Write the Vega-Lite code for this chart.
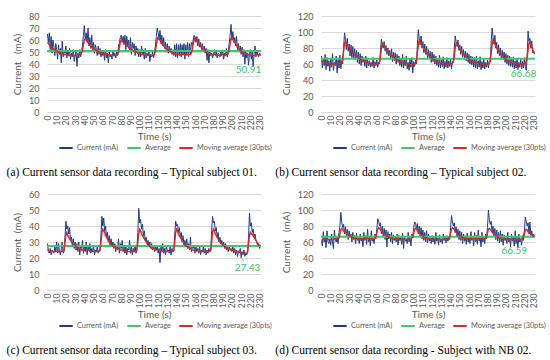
{
"$schema": "https://vega.github.io/schema/vega-lite/v6.json",
"padding": {"left": 6, "top": 12, "right": 2, "bottom": 2},
"datasets": {
"a": [
{"t":0,"c":65,"m":58},{"t":1,"c":58,"m":57},{"t":2,"c":66,"m":56},{"t":3,"c":52,"m":55},{"t":4,"c":63,"m":54},{"t":5,"c":49,"m":53},{"t":6,"c":60,"m":53},{"t":7,"c":54,"m":52},{"t":8,"c":47,"m":52},{"t":9,"c":57,"m":51},
{"t":10,"c":52,"m":51},{"t":11,"c":44,"m":50},{"t":12,"c":56,"m":50},{"t":13,"c":48,"m":50},{"t":14,"c":53,"m":49},{"t":15,"c":41,"m":49},{"t":16,"c":59,"m":49},{"t":17,"c":46,"m":49},{"t":18,"c":51,"m":48},{"t":19,"c":49,"m":48},
{"t":20,"c":55,"m":48},{"t":21,"c":45,"m":48},{"t":22,"c":50,"m":48},{"t":23,"c":47,"m":47},{"t":24,"c":53,"m":47},{"t":25,"c":44,"m":47},{"t":26,"c":49,"m":47},{"t":27,"c":46,"m":47},{"t":28,"c":52,"m":47},{"t":29,"c":42,"m":47},
{"t":30,"c":47,"m":47},{"t":31,"c":50,"m":47},{"t":32,"c":38,"m":47},{"t":33,"c":49,"m":47},{"t":34,"c":45,"m":47},{"t":35,"c":52,"m":48},{"t":36,"c":46,"m":48},{"t":37,"c":51,"m":49},{"t":38,"c":56,"m":52},{"t":39,"c":64,"m":56},
{"t":40,"c":72,"m":60},{"t":41,"c":60,"m":61},{"t":42,"c":66,"m":60},{"t":43,"c":58,"m":59},{"t":44,"c":70,"m":58},{"t":45,"c":55,"m":57},{"t":46,"c":62,"m":56},{"t":47,"c":53,"m":55},{"t":48,"c":64,"m":54},{"t":49,"c":50,"m":53},
{"t":50,"c":58,"m":53},{"t":51,"c":49,"m":52},{"t":52,"c":56,"m":52},{"t":53,"c":52,"m":51},{"t":54,"c":47,"m":51},{"t":55,"c":55,"m":50},{"t":56,"c":48,"m":50},{"t":57,"c":53,"m":50},{"t":58,"c":46,"m":49},{"t":59,"c":51,"m":49},
{"t":60,"c":47,"m":49},{"t":61,"c":50,"m":49},{"t":62,"c":43,"m":48},{"t":63,"c":52,"m":48},{"t":64,"c":45,"m":48},{"t":65,"c":49,"m":48},{"t":66,"c":41,"m":48},{"t":67,"c":50,"m":47},{"t":68,"c":46,"m":47},{"t":69,"c":48,"m":47},
{"t":70,"c":44,"m":47},{"t":71,"c":51,"m":47},{"t":72,"c":47,"m":47},{"t":73,"c":49,"m":47},{"t":74,"c":45,"m":47},{"t":75,"c":50,"m":47},{"t":76,"c":47,"m":48},{"t":77,"c":55,"m":50},{"t":78,"c":58,"m":54},{"t":79,"c":62,"m":58},
{"t":80,"c":64,"m":60},{"t":81,"c":58,"m":60},{"t":82,"c":63,"m":59},{"t":83,"c":56,"m":58},{"t":84,"c":64,"m":57},{"t":85,"c":52,"m":56},{"t":86,"c":63,"m":55},{"t":87,"c":55,"m":55},{"t":88,"c":60,"m":54},{"t":89,"c":50,"m":53},
{"t":90,"c":62,"m":53},{"t":91,"c":48,"m":52},{"t":92,"c":58,"m":52},{"t":93,"c":53,"m":51},{"t":94,"c":57,"m":51},{"t":95,"c":47,"m":50},{"t":96,"c":55,"m":50},{"t":97,"c":50,"m":50},{"t":98,"c":53,"m":49},{"t":99,"c":46,"m":49},
{"t":100,"c":52,"m":49},{"t":101,"c":46,"m":48},{"t":102,"c":55,"m":48},{"t":103,"c":48,"m":48},{"t":104,"c":50,"m":48},{"t":105,"c":44,"m":48},{"t":106,"c":53,"m":47},{"t":107,"c":45,"m":47},{"t":108,"c":49,"m":47},{"t":109,"c":47,"m":47},
{"t":110,"c":51,"m":47},{"t":111,"c":42,"m":47},{"t":112,"c":48,"m":47},{"t":113,"c":46,"m":47},{"t":114,"c":50,"m":47},{"t":115,"c":45,"m":47},{"t":116,"c":49,"m":48},{"t":117,"c":55,"m":51},{"t":118,"c":63,"m":56},{"t":119,"c":70,"m":60},
{"t":120,"c":66,"m":62},{"t":121,"c":60,"m":61},{"t":122,"c":68,"m":60},{"t":123,"c":57,"m":58},{"t":124,"c":64,"m":57},{"t":125,"c":55,"m":56},{"t":126,"c":62,"m":55},{"t":127,"c":53,"m":54},{"t":128,"c":58,"m":53},{"t":129,"c":51,"m":52},
{"t":130,"c":57,"m":52},{"t":131,"c":49,"m":51},{"t":132,"c":55,"m":51},{"t":133,"c":50,"m":50},{"t":134,"c":53,"m":50},{"t":135,"c":48,"m":50},{"t":136,"c":52,"m":49},{"t":137,"c":47,"m":49},{"t":138,"c":56,"m":49},{"t":139,"c":46,"m":48},
{"t":140,"c":57,"m":48},{"t":141,"c":45,"m":48},{"t":142,"c":56,"m":48},{"t":143,"c":47,"m":48},{"t":144,"c":57,"m":48},{"t":145,"c":46,"m":48},{"t":146,"c":56,"m":48},{"t":147,"c":48,"m":48},{"t":148,"c":57,"m":48},{"t":149,"c":44,"m":48},
{"t":150,"c":56,"m":48},{"t":151,"c":47,"m":48},{"t":152,"c":58,"m":48},{"t":153,"c":46,"m":48},{"t":154,"c":57,"m":48},{"t":155,"c":48,"m":48},{"t":156,"c":58,"m":49},{"t":157,"c":55,"m":52},{"t":158,"c":60,"m":57},{"t":159,"c":64,"m":60},
{"t":160,"c":62,"m":62},{"t":161,"c":58,"m":61},{"t":162,"c":63,"m":60},{"t":163,"c":55,"m":58},{"t":164,"c":61,"m":57},{"t":165,"c":54,"m":56},{"t":166,"c":58,"m":55},{"t":167,"c":52,"m":54},{"t":168,"c":57,"m":53},{"t":169,"c":50,"m":52},
{"t":170,"c":55,"m":52},{"t":171,"c":49,"m":51},{"t":172,"c":53,"m":50},{"t":173,"c":43,"m":50},{"t":174,"c":52,"m":49},{"t":175,"c":41,"m":49},{"t":176,"c":50,"m":49},{"t":177,"c":47,"m":48},{"t":178,"c":49,"m":48},{"t":179,"c":45,"m":48},
{"t":180,"c":48,"m":48},{"t":181,"c":52,"m":48},{"t":182,"c":47,"m":48},{"t":183,"c":50,"m":47},{"t":184,"c":45,"m":47},{"t":185,"c":49,"m":47},{"t":186,"c":48,"m":47},{"t":187,"c":46,"m":47},{"t":188,"c":50,"m":47},{"t":189,"c":47,"m":48},
{"t":190,"c":51,"m":48},{"t":191,"c":44,"m":48},{"t":192,"c":49,"m":47},{"t":193,"c":47,"m":47},{"t":194,"c":53,"m":48},{"t":195,"c":46,"m":48},{"t":196,"c":50,"m":49},{"t":197,"c":57,"m":52},{"t":198,"c":64,"m":57},{"t":199,"c":73,"m":61},
{"t":200,"c":60,"m":62},{"t":201,"c":67,"m":61},{"t":202,"c":58,"m":59},{"t":203,"c":62,"m":58},{"t":204,"c":55,"m":57},{"t":205,"c":63,"m":55},{"t":206,"c":52,"m":54},{"t":207,"c":57,"m":53},{"t":208,"c":50,"m":52},{"t":209,"c":55,"m":51},
{"t":210,"c":48,"m":51},{"t":211,"c":54,"m":50},{"t":212,"c":46,"m":50},{"t":213,"c":52,"m":49},{"t":214,"c":40,"m":49},{"t":215,"c":50,"m":49},{"t":216,"c":45,"m":48},{"t":217,"c":49,"m":48},{"t":218,"c":39,"m":48},{"t":219,"c":48,"m":47},
{"t":220,"c":52,"m":47},{"t":221,"c":44,"m":47},{"t":222,"c":50,"m":47},{"t":223,"c":38,"m":47},{"t":224,"c":48,"m":47},{"t":225,"c":55,"m":47},{"t":226,"c":46,"m":48},{"t":227,"c":51,"m":48},{"t":228,"c":48,"m":48},{"t":229,"c":46,"m":47},
{"t":230,"c":49,"m":48},{"t":231,"c":47,"m":48}
],
"b": [
{"t":0,"c":70,"m":64},{"t":1,"c":55,"m":63},{"t":2,"c":66,"m":63},{"t":3,"c":58,"m":62},{"t":4,"c":72,"m":62},{"t":5,"c":53,"m":61},{"t":6,"c":68,"m":61},{"t":7,"c":57,"m":61},{"t":8,"c":64,"m":61},{"t":9,"c":51,"m":60},
{"t":10,"c":67,"m":60},{"t":11,"c":56,"m":60},{"t":12,"c":73,"m":60},{"t":13,"c":52,"m":60},{"t":14,"c":62,"m":60},{"t":15,"c":58,"m":60},{"t":16,"c":70,"m":60},{"t":17,"c":49,"m":60},{"t":18,"c":66,"m":61},{"t":19,"c":55,"m":61},
{"t":20,"c":71,"m":61},{"t":21,"c":54,"m":61},{"t":22,"c":64,"m":62},{"t":23,"c":60,"m":66},{"t":24,"c":80,"m":76},{"t":25,"c":99,"m":86},{"t":26,"c":90,"m":88},{"t":27,"c":78,"m":86},{"t":28,"c":92,"m":84},{"t":29,"c":76,"m":82},
{"t":30,"c":85,"m":80},{"t":31,"c":70,"m":78},{"t":32,"c":84,"m":77},{"t":33,"c":68,"m":75},{"t":34,"c":82,"m":74},{"t":35,"c":66,"m":73},{"t":36,"c":79,"m":72},{"t":37,"c":65,"m":71},{"t":38,"c":77,"m":70},{"t":39,"c":62,"m":69},
{"t":40,"c":75,"m":68},{"t":41,"c":60,"m":67},{"t":42,"c":73,"m":66},{"t":43,"c":58,"m":66},{"t":44,"c":70,"m":65},{"t":45,"c":62,"m":64},{"t":46,"c":68,"m":64},{"t":47,"c":57,"m":63},{"t":48,"c":70,"m":63},{"t":49,"c":55,"m":62},
{"t":50,"c":66,"m":62},{"t":51,"c":58,"m":61},{"t":52,"c":64,"m":61},{"t":53,"c":56,"m":61},{"t":54,"c":62,"m":60},{"t":55,"c":57,"m":60},{"t":56,"c":68,"m":60},{"t":57,"c":55,"m":60},{"t":58,"c":63,"m":60},{"t":59,"c":58,"m":60},
{"t":60,"c":65,"m":60},{"t":61,"c":56,"m":61},{"t":62,"c":62,"m":61},{"t":63,"c":60,"m":63},{"t":64,"c":78,"m":70},{"t":65,"c":91,"m":80},{"t":66,"c":84,"m":86},{"t":67,"c":80,"m":85},{"t":68,"c":88,"m":83},{"t":69,"c":76,"m":81},
{"t":70,"c":83,"m":79},{"t":71,"c":72,"m":77},{"t":72,"c":80,"m":76},{"t":73,"c":70,"m":74},{"t":74,"c":77,"m":73},{"t":75,"c":66,"m":72},{"t":76,"c":79,"m":71},{"t":77,"c":63,"m":70},{"t":78,"c":75,"m":69},{"t":79,"c":64,"m":68},
{"t":80,"c":74,"m":67},{"t":81,"c":60,"m":66},{"t":82,"c":72,"m":65},{"t":83,"c":62,"m":65},{"t":84,"c":70,"m":64},{"t":85,"c":58,"m":64},{"t":86,"c":67,"m":63},{"t":87,"c":56,"m":63},{"t":88,"c":72,"m":62},{"t":89,"c":55,"m":62},
{"t":90,"c":65,"m":61},{"t":91,"c":58,"m":61},{"t":92,"c":70,"m":61},{"t":93,"c":54,"m":60},{"t":94,"c":62,"m":60},{"t":95,"c":52,"m":60},{"t":96,"c":66,"m":59},{"t":97,"c":56,"m":59},{"t":98,"c":68,"m":60},{"t":99,"c":49,"m":60},
{"t":100,"c":63,"m":60},{"t":101,"c":57,"m":60},{"t":102,"c":65,"m":61},{"t":103,"c":60,"m":64},{"t":104,"c":85,"m":74},{"t":105,"c":103,"m":84},{"t":106,"c":92,"m":90},{"t":107,"c":84,"m":88},{"t":108,"c":95,"m":86},{"t":109,"c":80,"m":83},
{"t":110,"c":88,"m":81},{"t":111,"c":74,"m":79},{"t":112,"c":85,"m":77},{"t":113,"c":72,"m":75},{"t":114,"c":82,"m":74},{"t":115,"c":68,"m":72},{"t":116,"c":78,"m":71},{"t":117,"c":66,"m":70},{"t":118,"c":76,"m":69},{"t":119,"c":62,"m":68},
{"t":120,"c":75,"m":67},{"t":121,"c":63,"m":66},{"t":122,"c":72,"m":65},{"t":123,"c":60,"m":65},{"t":124,"c":70,"m":64},{"t":125,"c":58,"m":64},{"t":126,"c":67,"m":63},{"t":127,"c":56,"m":63},{"t":128,"c":71,"m":62},{"t":129,"c":55,"m":62},
{"t":130,"c":65,"m":61},{"t":131,"c":57,"m":61},{"t":132,"c":69,"m":61},{"t":133,"c":54,"m":60},{"t":134,"c":63,"m":60},{"t":135,"c":56,"m":60},{"t":136,"c":68,"m":60},{"t":137,"c":55,"m":60},{"t":138,"c":64,"m":60},{"t":139,"c":57,"m":60},
{"t":140,"c":66,"m":60},{"t":141,"c":54,"m":60},{"t":142,"c":63,"m":61},{"t":143,"c":62,"m":63},{"t":144,"c":80,"m":70},{"t":145,"c":95,"m":80},{"t":146,"c":88,"m":86},{"t":147,"c":82,"m":85},{"t":148,"c":90,"m":83},{"t":149,"c":77,"m":81},
{"t":150,"c":84,"m":79},{"t":151,"c":72,"m":77},{"t":152,"c":82,"m":75},{"t":153,"c":69,"m":74},{"t":154,"c":78,"m":72},{"t":155,"c":66,"m":71},{"t":156,"c":76,"m":70},{"t":157,"c":64,"m":69},{"t":158,"c":74,"m":68},{"t":159,"c":62,"m":67},
{"t":160,"c":72,"m":66},{"t":161,"c":60,"m":65},{"t":162,"c":70,"m":65},{"t":163,"c":59,"m":64},{"t":164,"c":69,"m":63},{"t":165,"c":56,"m":63},{"t":166,"c":68,"m":62},{"t":167,"c":55,"m":62},{"t":168,"c":70,"m":62},{"t":169,"c":54,"m":61},
{"t":170,"c":64,"m":61},{"t":171,"c":56,"m":61},{"t":172,"c":69,"m":60},{"t":173,"c":53,"m":60},{"t":174,"c":63,"m":60},{"t":175,"c":55,"m":60},{"t":176,"c":67,"m":60},{"t":177,"c":54,"m":60},{"t":178,"c":62,"m":60},{"t":179,"c":56,"m":60},
{"t":180,"c":65,"m":60},{"t":181,"c":55,"m":60},{"t":182,"c":64,"m":61},{"t":183,"c":63,"m":64},{"t":184,"c":88,"m":74},{"t":185,"c":105,"m":85},{"t":186,"c":94,"m":90},{"t":187,"c":85,"m":88},{"t":188,"c":96,"m":85},{"t":189,"c":80,"m":83},
{"t":190,"c":87,"m":80},{"t":191,"c":73,"m":78},{"t":192,"c":84,"m":76},{"t":193,"c":70,"m":74},{"t":194,"c":80,"m":73},{"t":195,"c":67,"m":71},{"t":196,"c":77,"m":70},{"t":197,"c":65,"m":69},{"t":198,"c":75,"m":68},{"t":199,"c":62,"m":67},
{"t":200,"c":73,"m":66},{"t":201,"c":60,"m":65},{"t":202,"c":71,"m":64},{"t":203,"c":58,"m":64},{"t":204,"c":70,"m":63},{"t":205,"c":57,"m":63},{"t":206,"c":68,"m":62},{"t":207,"c":56,"m":62},{"t":208,"c":69,"m":61},{"t":209,"c":54,"m":61},
{"t":210,"c":64,"m":61},{"t":211,"c":55,"m":60},{"t":212,"c":67,"m":60},{"t":213,"c":53,"m":60},{"t":214,"c":62,"m":60},{"t":215,"c":56,"m":60},{"t":216,"c":66,"m":60},{"t":217,"c":54,"m":60},{"t":218,"c":63,"m":60},{"t":219,"c":55,"m":60},
{"t":220,"c":68,"m":60},{"t":221,"c":57,"m":61},{"t":222,"c":52,"m":63},{"t":223,"c":70,"m":68},{"t":224,"c":101,"m":78},{"t":225,"c":88,"m":86},{"t":226,"c":92,"m":87},{"t":227,"c":80,"m":85},{"t":228,"c":89,"m":81},{"t":229,"c":74,"m":78},
{"t":230,"c":77,"m":75},{"t":231,"c":73,"m":73}
],
"c": [
{"t":0,"c":29,"m":25},{"t":1,"c":24,"m":25},{"t":2,"c":23,"m":24},{"t":3,"c":26,"m":24},{"t":4,"c":22,"m":24},{"t":5,"c":25,"m":24},{"t":6,"c":24,"m":24},{"t":7,"c":23,"m":24},{"t":8,"c":27,"m":24},{"t":9,"c":24,"m":24},
{"t":10,"c":30,"m":24},{"t":11,"c":23,"m":24},{"t":12,"c":29,"m":24},{"t":13,"c":24,"m":24},{"t":14,"c":22,"m":24},{"t":15,"c":26,"m":24},{"t":16,"c":30,"m":24},{"t":17,"c":23,"m":25},{"t":18,"c":24,"m":25},{"t":19,"c":33,"m":30},
{"t":20,"c":43,"m":35},{"t":21,"c":38,"m":36},{"t":22,"c":40,"m":34},{"t":23,"c":35,"m":33},{"t":24,"c":39,"m":32},{"t":25,"c":31,"m":31},{"t":26,"c":33,"m":30},{"t":27,"c":28,"m":29},{"t":28,"c":32,"m":29},{"t":29,"c":26,"m":28},
{"t":30,"c":30,"m":28},{"t":31,"c":25,"m":27},{"t":32,"c":29,"m":27},{"t":33,"c":24,"m":26},{"t":34,"c":30,"m":26},{"t":35,"c":22,"m":26},{"t":36,"c":27,"m":26},{"t":37,"c":26,"m":25},{"t":38,"c":31,"m":25},{"t":39,"c":23,"m":25},
{"t":40,"c":28,"m":25},{"t":41,"c":24,"m":25},{"t":42,"c":30,"m":25},{"t":43,"c":22,"m":25},{"t":44,"c":27,"m":25},{"t":45,"c":25,"m":25},{"t":46,"c":29,"m":24},{"t":47,"c":23,"m":24},{"t":48,"c":26,"m":24},{"t":49,"c":24,"m":24},
{"t":50,"c":28,"m":24},{"t":51,"c":22,"m":24},{"t":52,"c":25,"m":24},{"t":53,"c":24,"m":24},{"t":54,"c":27,"m":24},{"t":55,"c":23,"m":24},{"t":56,"c":25,"m":24},{"t":57,"c":26,"m":25},{"t":58,"c":34,"m":30},{"t":59,"c":46,"m":36},
{"t":60,"c":40,"m":38},{"t":61,"c":45,"m":37},{"t":62,"c":37,"m":36},{"t":63,"c":40,"m":34},{"t":64,"c":33,"m":33},{"t":65,"c":36,"m":32},{"t":66,"c":30,"m":31},{"t":67,"c":34,"m":30},{"t":68,"c":28,"m":29},{"t":69,"c":32,"m":29},
{"t":70,"c":27,"m":28},{"t":71,"c":30,"m":28},{"t":72,"c":26,"m":27},{"t":73,"c":29,"m":27},{"t":74,"c":24,"m":27},{"t":75,"c":28,"m":26},{"t":76,"c":25,"m":26},{"t":77,"c":32,"m":26},{"t":78,"c":23,"m":26},{"t":79,"c":29,"m":25},
{"t":80,"c":26,"m":25},{"t":81,"c":31,"m":25},{"t":82,"c":24,"m":25},{"t":83,"c":27,"m":25},{"t":84,"c":23,"m":25},{"t":85,"c":28,"m":24},{"t":86,"c":22,"m":24},{"t":87,"c":26,"m":24},{"t":88,"c":25,"m":24},{"t":89,"c":31,"m":24},
{"t":90,"c":23,"m":24},{"t":91,"c":27,"m":24},{"t":92,"c":22,"m":24},{"t":93,"c":26,"m":24},{"t":94,"c":24,"m":24},{"t":95,"c":28,"m":24},{"t":96,"c":23,"m":24},{"t":97,"c":26,"m":25},{"t":98,"c":36,"m":30},{"t":99,"c":51,"m":36},
{"t":100,"c":42,"m":38},{"t":101,"c":44,"m":37},{"t":102,"c":38,"m":35},{"t":103,"c":41,"m":34},{"t":104,"c":34,"m":33},{"t":105,"c":37,"m":32},{"t":106,"c":31,"m":31},{"t":107,"c":33,"m":30},{"t":108,"c":29,"m":29},{"t":109,"c":31,"m":28},
{"t":110,"c":27,"m":28},{"t":111,"c":30,"m":27},{"t":112,"c":26,"m":27},{"t":113,"c":29,"m":26},{"t":114,"c":25,"m":26},{"t":115,"c":28,"m":26},{"t":116,"c":24,"m":26},{"t":117,"c":27,"m":25},{"t":118,"c":25,"m":25},{"t":119,"c":28,"m":25},
{"t":120,"c":23,"m":25},{"t":121,"c":26,"m":25},{"t":122,"c":17,"m":25},{"t":123,"c":27,"m":24},{"t":124,"c":24,"m":24},{"t":125,"c":29,"m":24},{"t":126,"c":23,"m":24},{"t":127,"c":26,"m":24},{"t":128,"c":22,"m":24},{"t":129,"c":28,"m":24},
{"t":130,"c":24,"m":24},{"t":131,"c":25,"m":24},{"t":132,"c":23,"m":24},{"t":133,"c":27,"m":24},{"t":134,"c":22,"m":24},{"t":135,"c":26,"m":24},{"t":136,"c":24,"m":24},{"t":137,"c":25,"m":25},{"t":138,"c":35,"m":30},{"t":139,"c":43,"m":36},
{"t":140,"c":40,"m":38},{"t":141,"c":41,"m":37},{"t":142,"c":36,"m":35},{"t":143,"c":39,"m":34},{"t":144,"c":33,"m":33},{"t":145,"c":36,"m":32},{"t":146,"c":30,"m":31},{"t":147,"c":34,"m":30},{"t":148,"c":28,"m":29},{"t":149,"c":31,"m":28},
{"t":150,"c":27,"m":28},{"t":151,"c":32,"m":27},{"t":152,"c":26,"m":27},{"t":153,"c":29,"m":27},{"t":154,"c":25,"m":26},{"t":155,"c":33,"m":26},{"t":156,"c":24,"m":26},{"t":157,"c":28,"m":25},{"t":158,"c":26,"m":25},{"t":159,"c":27,"m":25},
{"t":160,"c":23,"m":25},{"t":161,"c":27,"m":25},{"t":162,"c":24,"m":25},{"t":163,"c":26,"m":25},{"t":164,"c":23,"m":24},{"t":165,"c":28,"m":24},{"t":166,"c":22,"m":24},{"t":167,"c":25,"m":24},{"t":168,"c":24,"m":24},{"t":169,"c":27,"m":24},
{"t":170,"c":23,"m":24},{"t":171,"c":26,"m":24},{"t":172,"c":22,"m":24},{"t":173,"c":25,"m":24},{"t":174,"c":23,"m":24},{"t":175,"c":26,"m":24},{"t":176,"c":24,"m":24},{"t":177,"c":25,"m":25},{"t":178,"c":37,"m":30},{"t":179,"c":46,"m":36},
{"t":180,"c":42,"m":38},{"t":181,"c":43,"m":37},{"t":182,"c":37,"m":35},{"t":183,"c":39,"m":34},{"t":184,"c":33,"m":33},{"t":185,"c":36,"m":32},{"t":186,"c":30,"m":31},{"t":187,"c":33,"m":30},{"t":188,"c":29,"m":29},{"t":189,"c":31,"m":29},
{"t":190,"c":27,"m":28},{"t":191,"c":30,"m":28},{"t":192,"c":26,"m":27},{"t":193,"c":29,"m":27},{"t":194,"c":25,"m":26},{"t":195,"c":28,"m":26},{"t":196,"c":24,"m":26},{"t":197,"c":27,"m":26},{"t":198,"c":25,"m":25},{"t":199,"c":26,"m":25},
{"t":200,"c":24,"m":25},{"t":201,"c":27,"m":25},{"t":202,"c":23,"m":25},{"t":203,"c":26,"m":25},{"t":204,"c":22,"m":24},{"t":205,"c":25,"m":24},{"t":206,"c":21,"m":24},{"t":207,"c":24,"m":24},{"t":208,"c":23,"m":24},{"t":209,"c":26,"m":24},
{"t":210,"c":20,"m":23},{"t":211,"c":24,"m":23},{"t":212,"c":22,"m":23},{"t":213,"c":25,"m":23},{"t":214,"c":21,"m":23},{"t":215,"c":23,"m":23},{"t":216,"c":22,"m":23},{"t":217,"c":24,"m":24},{"t":218,"c":33,"m":29},{"t":219,"c":48,"m":34},
{"t":220,"c":40,"m":36},{"t":221,"c":42,"m":35},{"t":222,"c":36,"m":35},{"t":223,"c":38,"m":34},{"t":224,"c":33,"m":33},{"t":225,"c":35,"m":32},{"t":226,"c":31,"m":31},{"t":227,"c":30,"m":30},{"t":228,"c":27,"m":29},{"t":229,"c":29,"m":28},
{"t":230,"c":26,"m":28},{"t":231,"c":28,"m":28}
],
"d": [
{"t":0,"c":62,"m":63},{"t":1,"c":55,"m":63},{"t":2,"c":73,"m":63},{"t":3,"c":60,"m":63},{"t":4,"c":66,"m":63},{"t":5,"c":53,"m":63},{"t":6,"c":74,"m":63},{"t":7,"c":61,"m":63},{"t":8,"c":58,"m":63},{"t":9,"c":64,"m":63},
{"t":10,"c":56,"m":63},{"t":11,"c":70,"m":63},{"t":12,"c":60,"m":63},{"t":13,"c":52,"m":63},{"t":14,"c":75,"m":64},{"t":15,"c":63,"m":64},{"t":16,"c":60,"m":64},{"t":17,"c":66,"m":64},{"t":18,"c":58,"m":65},{"t":19,"c":72,"m":65},
{"t":20,"c":80,"m":70},{"t":21,"c":97,"m":75},{"t":22,"c":85,"m":77},{"t":23,"c":78,"m":76},{"t":24,"c":82,"m":74},{"t":25,"c":70,"m":73},{"t":26,"c":79,"m":72},{"t":27,"c":68,"m":71},{"t":28,"c":76,"m":70},{"t":29,"c":63,"m":69},
{"t":30,"c":74,"m":68},{"t":31,"c":66,"m":67},{"t":32,"c":70,"m":67},{"t":33,"c":60,"m":66},{"t":34,"c":72,"m":66},{"t":35,"c":63,"m":65},{"t":36,"c":68,"m":65},{"t":37,"c":58,"m":65},{"t":38,"c":71,"m":64},{"t":39,"c":62,"m":64},
{"t":40,"c":66,"m":64},{"t":41,"c":58,"m":64},{"t":42,"c":70,"m":64},{"t":43,"c":61,"m":64},{"t":44,"c":65,"m":64},{"t":45,"c":54,"m":64},{"t":46,"c":72,"m":64},{"t":47,"c":62,"m":65},{"t":48,"c":68,"m":65},{"t":49,"c":57,"m":65},
{"t":50,"c":76,"m":65},{"t":51,"c":60,"m":64},{"t":52,"c":66,"m":64},{"t":53,"c":55,"m":64},{"t":54,"c":74,"m":64},{"t":55,"c":61,"m":64},{"t":56,"c":65,"m":64},{"t":57,"c":58,"m":64},{"t":58,"c":70,"m":65},{"t":59,"c":64,"m":66},
{"t":60,"c":76,"m":71},{"t":61,"c":89,"m":76},{"t":62,"c":86,"m":78},{"t":63,"c":80,"m":77},{"t":64,"c":84,"m":75},{"t":65,"c":70,"m":74},{"t":66,"c":80,"m":72},{"t":67,"c":66,"m":71},{"t":68,"c":77,"m":70},{"t":69,"c":63,"m":69},
{"t":70,"c":75,"m":68},{"t":71,"c":54,"m":67},{"t":72,"c":73,"m":67},{"t":73,"c":64,"m":66},{"t":74,"c":70,"m":66},{"t":75,"c":60,"m":65},{"t":76,"c":72,"m":65},{"t":77,"c":58,"m":65},{"t":78,"c":69,"m":64},{"t":79,"c":62,"m":64},
{"t":80,"c":67,"m":64},{"t":81,"c":60,"m":64},{"t":82,"c":70,"m":64},{"t":83,"c":56,"m":64},{"t":84,"c":68,"m":63},{"t":85,"c":62,"m":63},{"t":86,"c":66,"m":63},{"t":87,"c":57,"m":63},{"t":88,"c":71,"m":63},{"t":89,"c":52,"m":63},
{"t":90,"c":67,"m":63},{"t":91,"c":61,"m":63},{"t":92,"c":64,"m":63},{"t":93,"c":58,"m":63},{"t":94,"c":72,"m":63},{"t":95,"c":60,"m":63},{"t":96,"c":66,"m":64},{"t":97,"c":55,"m":64},{"t":98,"c":70,"m":65},{"t":99,"c":65,"m":66},
{"t":100,"c":78,"m":71},{"t":101,"c":85,"m":76},{"t":102,"c":84,"m":77},{"t":103,"c":75,"m":76},{"t":104,"c":83,"m":74},{"t":105,"c":70,"m":73},{"t":106,"c":80,"m":71},{"t":107,"c":67,"m":70},{"t":108,"c":78,"m":69},{"t":109,"c":64,"m":68},
{"t":110,"c":75,"m":67},{"t":111,"c":62,"m":66},{"t":112,"c":72,"m":66},{"t":113,"c":60,"m":65},{"t":114,"c":74,"m":65},{"t":115,"c":59,"m":64},{"t":116,"c":70,"m":64},{"t":117,"c":61,"m":64},{"t":118,"c":67,"m":64},{"t":119,"c":58,"m":63},
{"t":120,"c":68,"m":63},{"t":121,"c":60,"m":63},{"t":122,"c":66,"m":63},{"t":123,"c":57,"m":63},{"t":124,"c":72,"m":63},{"t":125,"c":61,"m":63},{"t":126,"c":65,"m":63},{"t":127,"c":56,"m":63},{"t":128,"c":69,"m":63},{"t":129,"c":60,"m":63},
{"t":130,"c":64,"m":63},{"t":131,"c":58,"m":63},{"t":132,"c":70,"m":63},{"t":133,"c":62,"m":63},{"t":134,"c":66,"m":63},{"t":135,"c":59,"m":63},{"t":136,"c":68,"m":64},{"t":137,"c":61,"m":64},{"t":138,"c":65,"m":65},{"t":139,"c":63,"m":66},
{"t":140,"c":78,"m":71},{"t":141,"c":93,"m":76},{"t":142,"c":85,"m":78},{"t":143,"c":80,"m":77},{"t":144,"c":84,"m":75},{"t":145,"c":72,"m":73},{"t":146,"c":79,"m":72},{"t":147,"c":66,"m":70},{"t":148,"c":76,"m":69},{"t":149,"c":63,"m":68},
{"t":150,"c":74,"m":67},{"t":151,"c":62,"m":67},{"t":152,"c":72,"m":66},{"t":153,"c":58,"m":66},{"t":154,"c":70,"m":65},{"t":155,"c":61,"m":65},{"t":156,"c":68,"m":65},{"t":157,"c":57,"m":64},{"t":158,"c":71,"m":64},{"t":159,"c":60,"m":64},
{"t":160,"c":66,"m":64},{"t":161,"c":58,"m":64},{"t":162,"c":73,"m":64},{"t":163,"c":62,"m":64},{"t":164,"c":66,"m":64},{"t":165,"c":55,"m":64},{"t":166,"c":72,"m":64},{"t":167,"c":60,"m":64},{"t":168,"c":68,"m":64},{"t":169,"c":57,"m":64},
{"t":170,"c":75,"m":64},{"t":171,"c":61,"m":64},{"t":172,"c":66,"m":64},{"t":173,"c":54,"m":64},{"t":174,"c":72,"m":64},{"t":175,"c":60,"m":64},{"t":176,"c":67,"m":64},{"t":177,"c":58,"m":64},{"t":178,"c":70,"m":65},{"t":179,"c":64,"m":66},
{"t":180,"c":78,"m":71},{"t":181,"c":100,"m":76},{"t":182,"c":88,"m":77},{"t":183,"c":82,"m":76},{"t":184,"c":86,"m":74},{"t":185,"c":72,"m":73},{"t":186,"c":80,"m":71},{"t":187,"c":66,"m":70},{"t":188,"c":77,"m":69},{"t":189,"c":63,"m":68},
{"t":190,"c":75,"m":67},{"t":191,"c":61,"m":66},{"t":192,"c":72,"m":66},{"t":193,"c":59,"m":65},{"t":194,"c":74,"m":65},{"t":195,"c":60,"m":64},{"t":196,"c":70,"m":64},{"t":197,"c":56,"m":64},{"t":198,"c":69,"m":64},{"t":199,"c":62,"m":63},
{"t":200,"c":66,"m":63},{"t":201,"c":58,"m":63},{"t":202,"c":72,"m":63},{"t":203,"c":60,"m":63},{"t":204,"c":65,"m":63},{"t":205,"c":54,"m":63},{"t":206,"c":70,"m":63},{"t":207,"c":61,"m":63},{"t":208,"c":67,"m":63},{"t":209,"c":55,"m":63},
{"t":210,"c":74,"m":63},{"t":211,"c":58,"m":63},{"t":212,"c":66,"m":63},{"t":213,"c":53,"m":63},{"t":214,"c":70,"m":63},{"t":215,"c":60,"m":63},{"t":216,"c":64,"m":63},{"t":217,"c":56,"m":64},{"t":218,"c":68,"m":65},{"t":219,"c":62,"m":66},
{"t":220,"c":74,"m":71},{"t":221,"c":91,"m":75},{"t":222,"c":86,"m":76},{"t":223,"c":80,"m":75},{"t":224,"c":84,"m":73},{"t":225,"c":70,"m":72},{"t":226,"c":85,"m":71},{"t":227,"c":68,"m":70},{"t":228,"c":74,"m":69},{"t":229,"c":66,"m":68},
{"t":230,"c":70,"m":67},{"t":231,"c":67,"m":67}
]
},
"columns": 2,
"bounds": "flush",
"spacing": {"row": 82, "column": 60},
"resolve": {"scale": {"x": "independent", "y": "independent", "color": "independent"}, "legend": {"color": "independent"}},
"concat": [
{
"width": 214, "height": 96,
"title": {"text": "(a) Current sensor data recording – Typical subject 01.", "dx": -6},
"data": {"name": "a"},
"layer": [
{"mark": {"type": "line", "strokeWidth": 1},
 "encoding": {
  "x": {"field": "t", "type": "quantitative", "scale": {"domain": [-0.5, 231.5], "nice": false}, "axis": {"values": [0,10,20,30,40,50,60,70,80,90,100,110,120,130,140,150,160,170,180,190,200,210,220,230], "title": "Time (s)"}},
  "y": {"field": "c", "type": "quantitative", "scale": {"domain": [0, 80], "nice": false}, "axis": {"values": [0,10,20,30,40,50,60,70,80], "title": "Current\u00a0\u00a0 (mA)"}},
  "color": {"datum": "Current (mA)", "type": "nominal", "scale": {"domain": ["Current (mA)", "Average", "Moving average (30pts)"], "range": ["#1f3a7f", "#3cc870", "#d42a2a"]}, "legend": {"orient": "none", "direction": "horizontal", "legendX": 11, "legendY": 124}}
 }},
{"data": {"values": [{}]}, "mark": {"type": "rule", "strokeWidth": 2},
 "encoding": {"y": {"datum": 50.91, "type": "quantitative", "axis": {"values": [0,10,20,30,40,50,60,70,80], "title": "Current\u00a0\u00a0 (mA)"}}, "color": {"datum": "Average", "type": "nominal"}}},
{"mark": {"type": "line", "strokeWidth": 1.5},
 "encoding": {
  "x": {"field": "t", "type": "quantitative", "axis": {"values": [0,10,20,30,40,50,60,70,80,90,100,110,120,130,140,150,160,170,180,190,200,210,220,230], "title": "Time (s)"}},
  "y": {"field": "m", "type": "quantitative", "axis": {"values": [0,10,20,30,40,50,60,70,80], "title": "Current\u00a0\u00a0 (mA)"}},
  "color": {"datum": "Moving average (30pts)", "type": "nominal"}
 }},
{"data": {"values": [{}]}, "mark": {"type": "text", "color": "#33c26f", "fontSize": 10},
 "encoding": {"x": {"datum": 218, "type": "quantitative", "axis": {"values": [0,10,20,30,40,50,60,70,80,90,100,110,120,130,140,150,160,170,180,190,200,210,220,230], "title": "Time (s)"}}, "y": {"datum": 35, "type": "quantitative", "axis": {"values": [0,10,20,30,40,50,60,70,80], "title": "Current\u00a0\u00a0 (mA)"}}, "text": {"value": "50.91"}}}
]
},
{
"width": 214, "height": 96,
"title": {"text": "(b) Current sensor data recording – Typical subject 02.", "dx": -6},
"data": {"name": "b"},
"layer": [
{"mark": {"type": "line", "strokeWidth": 1},
 "encoding": {
  "x": {"field": "t", "type": "quantitative", "scale": {"domain": [-0.5, 231.5], "nice": false}, "axis": {"values": [0,10,20,30,40,50,60,70,80,90,100,110,120,130,140,150,160,170,180,190,200,210,220,230], "title": "Time (s)"}},
  "y": {"field": "c", "type": "quantitative", "scale": {"domain": [0, 120], "nice": false}, "axis": {"values": [0,20,40,60,80,100,120], "title": "Current\u00a0\u00a0 (mA)"}},
  "color": {"datum": "Current (mA)", "type": "nominal", "scale": {"domain": ["Current (mA)", "Average", "Moving average (30pts)"], "range": ["#1f3a7f", "#3cc870", "#d42a2a"]}, "legend": {"orient": "none", "direction": "horizontal", "legendX": 11, "legendY": 124}}
 }},
{"data": {"values": [{}]}, "mark": {"type": "rule", "strokeWidth": 2},
 "encoding": {"y": {"datum": 66.68, "type": "quantitative", "axis": {"values": [0,20,40,60,80,100,120], "title": "Current\u00a0\u00a0 (mA)"}}, "color": {"datum": "Average", "type": "nominal"}}},
{"mark": {"type": "line", "strokeWidth": 1.5},
 "encoding": {
  "x": {"field": "t", "type": "quantitative", "axis": {"values": [0,10,20,30,40,50,60,70,80,90,100,110,120,130,140,150,160,170,180,190,200,210,220,230], "title": "Time (s)"}},
  "y": {"field": "m", "type": "quantitative", "axis": {"values": [0,20,40,60,80,100,120], "title": "Current\u00a0\u00a0 (mA)"}},
  "color": {"datum": "Moving average (30pts)", "type": "nominal"}
 }},
{"data": {"values": [{}]}, "mark": {"type": "text", "color": "#33c26f", "fontSize": 10},
 "encoding": {"x": {"datum": 219, "type": "quantitative", "axis": {"values": [0,10,20,30,40,50,60,70,80,90,100,110,120,130,140,150,160,170,180,190,200,210,220,230], "title": "Time (s)"}}, "y": {"datum": 48, "type": "quantitative", "axis": {"values": [0,20,40,60,80,100,120], "title": "Current\u00a0\u00a0 (mA)"}}, "text": {"value": "66.68"}}}
]
},
{
"width": 214, "height": 96,
"title": {"text": "(c) Current sensor data recording – Typical subject 03.", "dx": -6},
"data": {"name": "c"},
"layer": [
{"mark": {"type": "line", "strokeWidth": 1},
 "encoding": {
  "x": {"field": "t", "type": "quantitative", "scale": {"domain": [-0.5, 231.5], "nice": false}, "axis": {"values": [0,10,20,30,40,50,60,70,80,90,100,110,120,130,140,150,160,170,180,190,200,210,220,230], "title": "Time (s)"}},
  "y": {"field": "c", "type": "quantitative", "scale": {"domain": [0, 60], "nice": false}, "axis": {"values": [0,10,20,30,40,50,60], "title": "Current\u00a0 (mA)"}},
  "color": {"datum": "Current (mA)", "type": "nominal", "scale": {"domain": ["Current (mA)", "Average", "Moving average (30pts)"], "range": ["#1f3a7f", "#3cc870", "#d42a2a"]}, "legend": {"orient": "none", "direction": "horizontal", "legendX": 11, "legendY": 124}}
 }},
{"data": {"values": [{}]}, "mark": {"type": "rule", "strokeWidth": 2},
 "encoding": {"y": {"datum": 27.43, "type": "quantitative", "axis": {"values": [0,10,20,30,40,50,60], "title": "Current\u00a0 (mA)"}}, "color": {"datum": "Average", "type": "nominal"}}},
{"mark": {"type": "line", "strokeWidth": 1.5},
 "encoding": {
  "x": {"field": "t", "type": "quantitative", "axis": {"values": [0,10,20,30,40,50,60,70,80,90,100,110,120,130,140,150,160,170,180,190,200,210,220,230], "title": "Time (s)"}},
  "y": {"field": "m", "type": "quantitative", "axis": {"values": [0,10,20,30,40,50,60], "title": "Current\u00a0 (mA)"}},
  "color": {"datum": "Moving average (30pts)", "type": "nominal"}
 }},
{"data": {"values": [{}]}, "mark": {"type": "rule", "color": "#a6a6a6", "strokeWidth": 1},
 "encoding": {"x": {"datum": 208, "type": "quantitative", "axis": {"values": [0,10,20,30,40,50,60,70,80,90,100,110,120,130,140,150,160,170,180,190,200,210,220,230], "title": "Time (s)"}}, "x2": {"datum": 213}, "y": {"datum": 22, "type": "quantitative", "axis": {"values": [0,10,20,30,40,50,60], "title": "Current\u00a0 (mA)"}}, "y2": {"datum": 18}}},
{"data": {"values": [{}]}, "mark": {"type": "text", "color": "#33c26f", "fontSize": 10},
 "encoding": {"x": {"datum": 217, "type": "quantitative", "axis": {"values": [0,10,20,30,40,50,60,70,80,90,100,110,120,130,140,150,160,170,180,190,200,210,220,230], "title": "Time (s)"}}, "y": {"datum": 14, "type": "quantitative", "axis": {"values": [0,10,20,30,40,50,60], "title": "Current\u00a0 (mA)"}}, "text": {"value": "27.43"}}}
]
},
{
"width": 214, "height": 96,
"title": {"text": "(d) Current sensor data recording - Subject with NB 02.", "dx": -6},
"data": {"name": "d"},
"layer": [
{"mark": {"type": "line", "strokeWidth": 1},
 "encoding": {
  "x": {"field": "t", "type": "quantitative", "scale": {"domain": [-0.5, 231.5], "nice": false}, "axis": {"values": [0,10,20,30,40,50,60,70,80,90,100,110,120,130,140,150,160,170,180,190,200,210,220,230], "title": "Time (s)"}},
  "y": {"field": "c", "type": "quantitative", "scale": {"domain": [0, 120], "nice": false}, "axis": {"values": [0,20,40,60,80,100,120], "title": "Current\u00a0\u00a0 (mA)"}},
  "color": {"datum": "Current (mA)", "type": "nominal", "scale": {"domain": ["Current (mA)", "Average", "Moving average (30pts)"], "range": ["#1f3a7f", "#3cc870", "#d42a2a"]}, "legend": {"orient": "none", "direction": "horizontal", "legendX": 11, "legendY": 124}}
 }},
{"data": {"values": [{}]}, "mark": {"type": "rule", "strokeWidth": 2},
 "encoding": {"y": {"datum": 66.59, "type": "quantitative", "axis": {"values": [0,20,40,60,80,100,120], "title": "Current\u00a0\u00a0 (mA)"}}, "color": {"datum": "Average", "type": "nominal"}}},
{"mark": {"type": "line", "strokeWidth": 1.5},
 "encoding": {
  "x": {"field": "t", "type": "quantitative", "axis": {"values": [0,10,20,30,40,50,60,70,80,90,100,110,120,130,140,150,160,170,180,190,200,210,220,230], "title": "Time (s)"}},
  "y": {"field": "m", "type": "quantitative", "axis": {"values": [0,20,40,60,80,100,120], "title": "Current\u00a0\u00a0 (mA)"}},
  "color": {"datum": "Moving average (30pts)", "type": "nominal"}
 }},
{"data": {"values": [{}]}, "mark": {"type": "text", "color": "#33c26f", "fontSize": 10},
 "encoding": {"x": {"datum": 209, "type": "quantitative", "axis": {"values": [0,10,20,30,40,50,60,70,80,90,100,110,120,130,140,150,160,170,180,190,200,210,220,230], "title": "Time (s)"}}, "y": {"datum": 49, "type": "quantitative", "axis": {"values": [0,20,40,60,80,100,120], "title": "Current\u00a0\u00a0 (mA)"}}, "text": {"value": "66.59"}}}
]
}
],
"config": {
 "font": "Lato",
 "background": "#ffffff",
 "view": {"stroke": null},
 "axis": {"labelColor": "#595959", "titleColor": "#595959", "labelFontSize": 9, "titleFontSize": 10, "titleFontWeight": "normal", "ticks": false, "gridColor": "#d9d9d9", "domainColor": "#d9d9d9", "labelOverlap": false},
 "axisX": {"grid": false, "labelAngle": -90, "labelFontSize": 8.5, "labelPadding": 3, "titlePadding": 2, "labelFlush": false},
 "axisY": {"domain": false, "grid": true, "labelPadding": 8, "titlePadding": 6},
 "legend": {"title": null, "symbolType": "stroke", "symbolStrokeWidth": 2, "symbolSize": 180, "labelFontSize": 7.3, "labelColor": "#595959", "labelOffset": 3, "columnPadding": 4},
 "title": {"font": "Liberation Serif", "fontSize": 11.5, "fontWeight": "normal", "color": "#000000", "orient": "bottom", "anchor": "start", "frame": "bounds", "offset": 15}
}
}
